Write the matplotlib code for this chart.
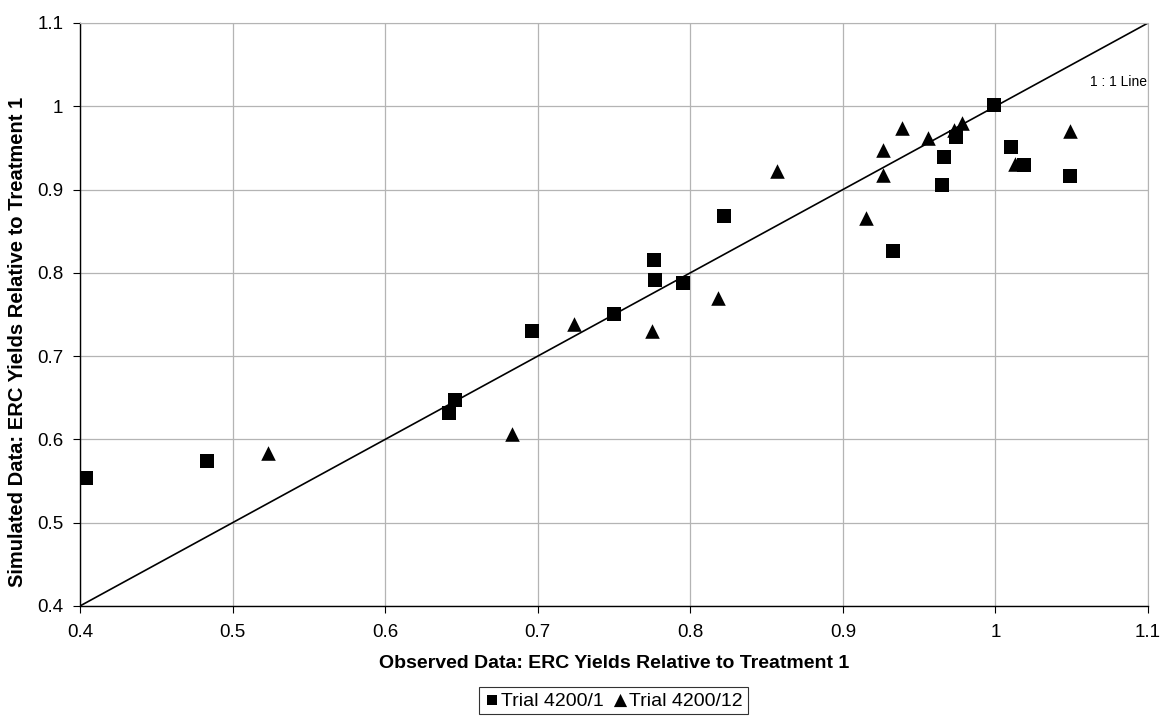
import matplotlib
matplotlib.use("Agg")
import matplotlib.pyplot as plt

plt.rcParams['font.family'] = ['Liberation Sans', 'DejaVu Sans']

obs_1 = [0.404, 0.483, 0.642, 0.646, 0.696, 0.750, 0.776, 0.777, 0.795, 0.822,
         0.933, 0.965, 0.966, 0.974, 0.999, 1.010, 1.019, 1.049]
sim_1 = [0.554, 0.574, 0.632, 0.647, 0.730, 0.750, 0.816, 0.791, 0.788, 0.868,
         0.826, 0.906, 0.939, 0.963, 1.002, 0.951, 0.930, 0.916]

obs_12 = [0.523, 0.683, 0.724, 0.775, 0.818, 0.857, 0.915, 0.926, 0.926, 0.939,
          0.956, 0.973, 0.978, 1.013, 1.049]
sim_12 = [0.584, 0.606, 0.738, 0.730, 0.770, 0.922, 0.866, 0.918, 0.948, 0.974,
          0.962, 0.971, 0.980, 0.931, 0.970]

line_pts = [0.4, 1.1]
xticks = [0.4, 0.5, 0.6, 0.7, 0.8, 0.9, 1.0, 1.1]
xticklabels = ['0.4', '0.5', '0.6', '0.7', '0.8', '0.9', '1', '1.1']
yticks = [0.4, 0.5, 0.6, 0.7, 0.8, 0.9, 1.0, 1.1]
yticklabels = ['0.4', '0.5', '0.6', '0.7', '0.8', '0.9', '1', '1.1']

fig = plt.figure(figsize=(11.64, 7.18), dpi=100)
ax = fig.add_axes([0.0687, 0.156, 0.9176, 0.812])
ax.set_xlim(0.4, 1.1)
ax.set_ylim(0.4, 1.1)
ax.set_xticks(xticks)
ax.set_xticklabels(xticklabels)
ax.set_yticks(yticks)
ax.set_yticklabels(yticklabels)
ax.grid(True, color='#b4b4b4', linewidth=0.9)
ax.set_axisbelow(True)
for s in ['top', 'right']:
    ax.spines[s].set_color('#b4b4b4')
for s in ['left', 'bottom']:
    ax.spines[s].set_color('black')
    ax.spines[s].set_linewidth(1.0)
ax.tick_params(axis='both', labelsize=13.5, length=5, color='black', direction='out')
ax.tick_params(axis='x', pad=8)
ax.tick_params(axis='y', pad=7)

ax.plot(line_pts, line_pts, color='black', linewidth=1.2, zorder=2)
ax.scatter(obs_1, sim_1, marker='s', s=90, color='black', linewidths=0, zorder=3,
           label='Trial 4200/1')
ax.scatter(obs_12, sim_12, marker='^', s=110, color='black', linewidths=0, zorder=3,
           label='Trial 4200/12')

ax.text(1.099, 1.029, '1 : 1 Line', fontsize=10, ha='right', va='center')

ax.set_xlabel('Observed Data: ERC Yields Relative to Treatment 1', fontsize=14,
              fontweight='bold')
ax.xaxis.set_label_coords(0.5, -0.084)
ax.set_ylabel('Simulated Data: ERC Yields Relative to Treatment 1', fontsize=14.5,
              fontweight='bold')
ax.yaxis.set_label_coords(-0.050, 0.453)

leg = fig.legend(loc='center', bbox_to_anchor=(0.527, 0.024), ncol=2, frameon=True,
                 fontsize=14, handletextpad=0.1, columnspacing=0.4,
                 handlelength=0.8, borderpad=0.25, fancybox=False, edgecolor='black')
leg.get_frame().set_linewidth(0.8)
leg.legend_handles[0].set_sizes([60])
leg.legend_handles[1].set_sizes([90])

fig.savefig('out.png', dpi=100, facecolor='white')
